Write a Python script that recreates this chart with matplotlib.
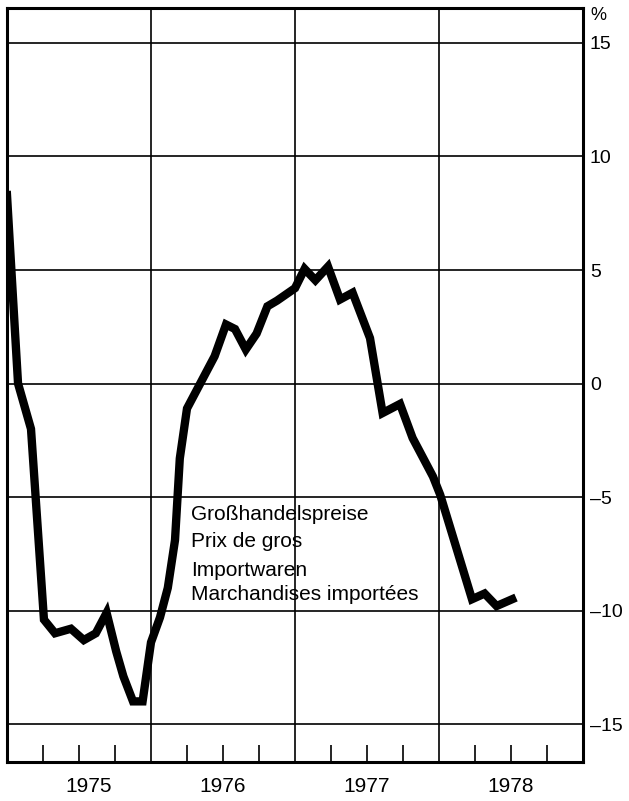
import numpy as np
import matplotlib.pyplot as plt
from matplotlib.transforms import blended_transform_factory

plt.rcParams['font.family'] = ['Liberation Sans', 'DejaVu Sans']

# 折线顶点（按月序号读取，0 = 1975年1月）
months = [0, 0.42, 0.92, 2.0, 3.08, 4.0, 5.33, 6.4, 7.4, 8.3, 9.1, 9.7, 10.5, 11.3,
          12.0, 12.75, 13.4, 14.0, 14.4, 15.0, 17.3, 18.25, 19.0, 19.9, 20.8, 21.7,
          22.5, 24.0, 24.8, 25.7, 26.75, 27.75, 28.8, 30.25, 31.3, 32.75, 33.8, 35.5,
          36.1, 38.75, 39.8, 40.8, 42.1]
values = [8.3, 4.5, 0.0, -2.0, -10.4, -11.0, -10.8, -11.3, -11.0, -10.1, -11.8, -12.9,
          -14.0, -14.0, -11.4, -10.3, -9.0, -6.9, -3.3, -1.1, 1.2, 2.6, 2.4, 1.5, 2.2,
          3.4, 3.65, 4.2, 5.05, 4.55, 5.15, 3.7, 4.0, 2.0, -1.3, -0.9, -2.4, -4.1,
          -4.9, -9.5, -9.25, -9.8, -9.5]

years = [1975, 1976, 1977, 1978]
y_ticks = [15, 10, 5, 0, -5, -10, -15]
label_lines = ['Großhandelspreise', 'Prix de gros', 'Importwaren', 'Marchandises importées']

x = 1975 + np.array(months) / 12.0

fig = plt.figure(figsize=(6.29, 8.01), dpi=100)
ax = fig.add_axes([7 / 629, 39 / 801, 576 / 629, 754 / 801])

ax.set_xlim(1975, 1979)
ax.set_ylim(-16.67, 16.54)

# 网格
for yy in y_ticks:
    ax.axhline(yy, color='black', lw=1.2, zorder=1)
for yr in years[1:]:
    ax.axvline(yr, color='black', lw=1.2, zorder=1)

ax.plot(x, values, color='black', lw=6, solid_joinstyle='miter', zorder=3)

# 坐标轴
ax.yaxis.tick_right()
ax.set_yticks(y_ticks)
ax.set_yticklabels([str(v).replace('-', '–') for v in y_ticks], fontsize=14)
ax.tick_params(axis='y', length=0, pad=5)

quarters = [yr + q / 4 for yr in years for q in (1, 2, 3)]
ax.set_xticks(quarters)
ax.set_xticklabels([])
ax.tick_params(axis='x', direction='in', length=12, width=1.2)

trans = blended_transform_factory(ax.transData, ax.transAxes)
for yr in years:
    ax.text(yr + 0.5 if yr > 1975 else yr + 0.57, -0.033, str(yr), transform=trans,
            ha='center', va='center', fontsize=15)

ax.text(1.012, 0.99, '%', transform=ax.transAxes, ha='left', va='center', fontsize=13)

for sp in ax.spines.values():
    sp.set_linewidth(2.2)

label_y = [-5.75, -6.95, -8.25, -9.3]
for txt, yy in zip(label_lines, label_y):
    ax.text(1976.28, yy, txt, ha='left', va='center', fontsize=15)

fig.savefig('out.png', dpi=100)
